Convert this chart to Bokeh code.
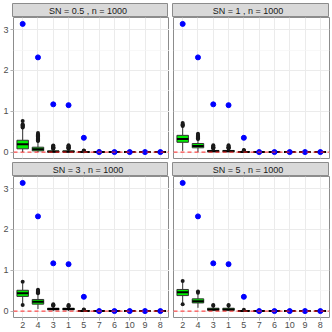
from bokeh.plotting import figure
from bokeh.layouts import column, row
from bokeh.models import FactorRange, Range1d, Span, FixedTicker
from bokeh.core.properties import value
from bokeh.embed import file_html
from bokeh.resources import INLINE

categories = ["2", "4", "3", "1", "5", "7", "6", "10", "9", "8"]
sn_values = ["0.5", "1", "3", "5"]
n_obs = "1000"
true_values = [3.14, 2.32, 1.17, 1.15, 0.35, 0, 0, 0, 0, 0]

# boxplot statistics per panel (order of categories)
q1_sn05 = [0.08, 0.03, 0.00, 0.00, 0.0, 0, 0, 0, 0, 0]
med_sn05 = [0.19, 0.07, 0.01, 0.01, 0.0, 0, 0, 0, 0, 0]
q3_sn05 = [0.29, 0.12, 0.03, 0.03, 0.005, 0, 0, 0, 0, 0]
lo_sn05 = [0.00, 0.00, 0.00, 0.00, 0.0, 0, 0, 0, 0, 0]
hi_sn05 = [0.58, 0.25, 0.07, 0.07, 0.01, 0.005, 0.005, 0.005, 0.005, 0.005]
out_sn05 = {"2": [0.6, 0.62, 0.64, 0.66, 0.68, 0.76],
            "4": [0.27, 0.29, 0.31, 0.33, 0.35, 0.37, 0.39, 0.41, 0.43, 0.47],
            "3": [0.08, 0.09, 0.1, 0.11, 0.12, 0.13, 0.15, 0.16],
            "1": [0.08, 0.09, 0.1, 0.11, 0.12, 0.14, 0.15, 0.17],
            "5": [0.02, 0.03, 0.04],
            "7": [0.01, 0.02], "6": [0.01], "10": [0.01], "9": [0.01], "8": [0.01]}

q1_sn1 = [0.24, 0.105, 0.01, 0.01, 0.0, 0, 0, 0, 0, 0]
med_sn1 = [0.32, 0.15, 0.02, 0.02, 0.005, 0, 0, 0, 0, 0]
q3_sn1 = [0.41, 0.21, 0.04, 0.04, 0.01, 0, 0, 0, 0, 0]
lo_sn1 = [0.03, 0.00, 0.00, 0.00, 0.0, 0, 0, 0, 0, 0]
hi_sn1 = [0.62, 0.30, 0.08, 0.08, 0.02, 0.005, 0.005, 0.005, 0.005, 0.005]
out_sn1 = {"2": [0.64, 0.66, 0.68, 0.71],
           "4": [0.32, 0.34, 0.36, 0.38, 0.4, 0.42, 0.45],
           "3": [0.09, 0.1, 0.11, 0.12, 0.14, 0.17],
           "1": [0.09, 0.1, 0.11, 0.12, 0.14, 0.17],
           "5": [0.03, 0.04, 0.05],
           "7": [0.01], "6": [0.01], "10": [0.01], "9": [0.01], "8": [0.01]}

q1_sn3 = [0.36, 0.17, 0.03, 0.03, 0.0, 0, 0, 0, 0, 0]
med_sn3 = [0.44, 0.23, 0.05, 0.05, 0.005, 0, 0, 0, 0, 0]
q3_sn3 = [0.51, 0.285, 0.07, 0.07, 0.01, 0, 0, 0, 0, 0]
lo_sn3 = [0.18, 0.05, 0.00, 0.00, 0.0, 0, 0, 0, 0, 0]
hi_sn3 = [0.68, 0.42, 0.12, 0.11, 0.02, 0.005, 0.005, 0.005, 0.005, 0.005]
out_sn3 = {"2": [0.15, 0.72],
           "4": [0.44, 0.46, 0.48, 0.5, 0.52],
           "3": [0.13, 0.14, 0.15, 0.17],
           "1": [0.12, 0.13, 0.15],
           "5": [0.03, 0.04],
           "7": [0.01], "6": [0.01], "10": [0.01], "9": [0.01], "8": [0.01]}

q1_sn5 = [0.38, 0.20, 0.02, 0.02, 0.0, 0, 0, 0, 0, 0]
med_sn5 = [0.46, 0.24, 0.04, 0.04, 0.005, 0, 0, 0, 0, 0]
q3_sn5 = [0.53, 0.30, 0.07, 0.07, 0.01, 0, 0, 0, 0, 0]
lo_sn5 = [0.20, 0.08, 0.00, 0.00, 0.0, 0, 0, 0, 0, 0]
hi_sn5 = [0.70, 0.42, 0.12, 0.12, 0.02, 0.005, 0.005, 0.005, 0.005, 0.005]
out_sn5 = {"2": [0.17, 0.74],
           "4": [0.45, 0.48],
           "3": [0.13, 0.15],
           "1": [0.13, 0.15],
           "5": [0.03],
           "7": [0.01], "6": [0.01], "10": [0.01], "9": [0.01], "8": [0.01]}

panels = [
    (q1_sn05, med_sn05, q3_sn05, lo_sn05, hi_sn05, out_sn05),
    (q1_sn1, med_sn1, q3_sn1, lo_sn1, hi_sn1, out_sn1),
    (q1_sn3, med_sn3, q3_sn3, lo_sn3, hi_sn3, out_sn3),
    (q1_sn5, med_sn5, q3_sn5, lo_sn5, hi_sn5, out_sn5),
]

FONT = value("Liberation Sans")
BORDER = "#8C8C8C"
FRAME_W = 156


def make_strip(label, left, right, top):
    s = figure(frame_width=FRAME_W, frame_height=14,
               x_range=Range1d(0, 1), y_range=Range1d(0, 1),
               x_axis_type=None, y_axis_type=None,
               output_backend="svg", toolbar_location=None,
               min_border_left=left, min_border_right=right,
               min_border_top=top, min_border_bottom=0)
    s.background_fill_color = "#D9D9D9"
    s.outline_line_color = BORDER
    s.outline_line_width = 1
    s.xgrid.visible = False
    s.ygrid.visible = False
    s.text(x=[0.5], y=[0.5], text=[label], text_align="center",
           text_baseline="middle", text_font=FONT, text_font_size="9px",
           text_color="#1A1A1A")
    return s


def make_panel(stats, left, right, bottom, show_x, show_y):
    q1, med, q3, lo, hi, outs = stats
    p = figure(frame_width=FRAME_W, frame_height=141,
               x_range=FactorRange(factors=categories, range_padding=0.1,
                                   range_padding_units="absolute"),
               y_range=Range1d(-0.157, 3.297),
               output_backend="svg", toolbar_location=None,
               min_border_left=left, min_border_right=right,
               min_border_top=0, min_border_bottom=bottom)
    p.background_fill_color = "white"
    p.outline_line_color = BORDER
    p.outline_line_width = 1
    p.xgrid.grid_line_color = "#EBEBEB"
    p.xgrid.grid_line_width = 1
    p.ygrid.grid_line_color = "#EBEBEB"
    p.ygrid.grid_line_width = 1
    p.ygrid.minor_grid_line_color = "#F5F5F5"
    p.ygrid.minor_grid_line_width = 0.7
    p.yaxis.ticker = FixedTicker(ticks=[0, 1, 2, 3], minor_ticks=[0.5, 1.5, 2.5])
    for ax in (p.xaxis[0], p.yaxis[0]):
        ax.axis_line_color = None
        ax.major_tick_line_color = "#B3B3B3"
        ax.major_tick_out = 3
        ax.major_tick_in = 0
        ax.minor_tick_line_color = None
        ax.major_label_text_font = "Liberation Sans"
        ax.major_label_text_font_size = "9px"
        ax.major_label_text_color = "#4D4D4D"
        ax.major_label_standoff = 1
        ax.axis_label_standoff = 0
    p.xaxis.visible = show_x
    p.yaxis.visible = show_y

    # whiskers
    p.segment(x0=categories, y0=q3, x1=categories, y1=hi,
              line_color="#333333", line_width=1)
    p.segment(x0=categories, y0=q1, x1=categories, y1=lo,
              line_color="#333333", line_width=1)
    # boxes
    p.vbar(x=categories, top=q3, bottom=q1, width=0.75,
           fill_color="#00EE00", line_color="#333333", line_width=1)
    # medians
    p.rect(x=categories, y=med, width=0.75, height=2, height_units="screen",
           fill_color="black", line_color=None)
    # outliers
    ox, oy = [], []
    for c in categories:
        for v in outs.get(c, []):
            ox.append(c)
            oy.append(v)
    p.scatter(x=ox, y=oy, size=4, fill_color="#1A1A1A", line_color=None)
    # reference line
    p.add_layout(Span(location=0, dimension="width", line_color="#FF2020",
                      line_dash="4 3", line_width=1.2, line_alpha=0.8))
    # true values
    p.scatter(x=categories, y=true_values, size=5, fill_color="blue",
              line_color="blue")
    return p


labels = ["SN =  %s , n =  %s" % (sn, n_obs) for sn in sn_values]

strip1 = make_strip(labels[0], 12, 0, 3)
strip2 = make_strip(labels[1], 4, 4, 3)
panel1 = make_panel(panels[0], 12, 0, 4, False, True)
panel2 = make_panel(panels[1], 4, 4, 4, False, False)
strip3 = make_strip(labels[2], 12, 0, 0)
strip4 = make_strip(labels[3], 4, 4, 0)
panel3 = make_panel(panels[2], 12, 0, 15, True, True)
panel4 = make_panel(panels[3], 4, 4, 15, True, False)

layout = column(row(strip1, strip2), row(panel1, panel2),
                row(strip3, strip4), row(panel3, panel4))

open("out.html", "w").write(file_html(layout, INLINE))
